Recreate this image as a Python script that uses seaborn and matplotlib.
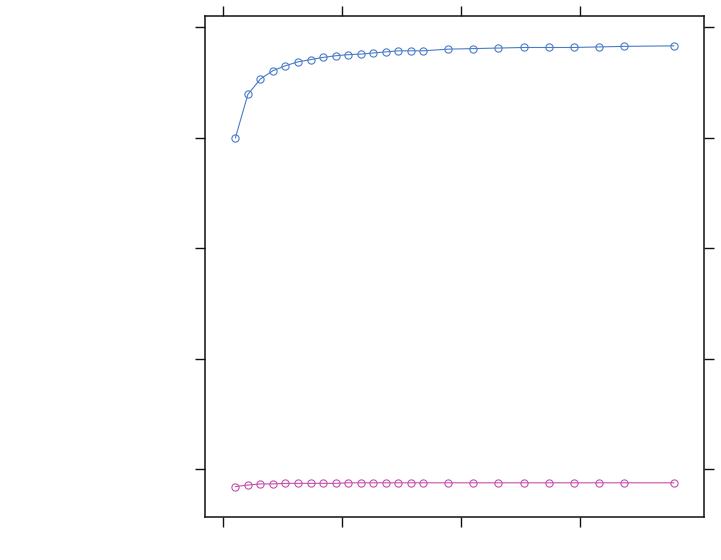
import pandas as pd
import matplotlib
matplotlib.use("Agg")
import matplotlib.pyplot as plt
import seaborn as sns

# x positions of the evaluated points
steps = [1, 2, 3, 4, 5, 6, 7, 8, 9, 10, 11, 12, 13, 14, 15, 16,
         18, 20, 22, 24, 26, 28, 30, 32, 36]

# upper (blue) series
upper = [0.599, 0.678, 0.706, 0.721, 0.730, 0.737, 0.741, 0.745, 0.748,
         0.750, 0.751, 0.753, 0.755, 0.757, 0.757, 0.757,
         0.760, 0.761, 0.762, 0.763, 0.763, 0.763, 0.764, 0.765, 0.766]

# lower (magenta) series
lower = [-0.032, -0.029, -0.027, -0.027, -0.026, -0.026, -0.026, -0.026,
         -0.026, -0.025, -0.025, -0.025, -0.025, -0.025, -0.025, -0.025,
         -0.025, -0.025, -0.025, -0.025, -0.025, -0.025, -0.025,
         -0.025, -0.025]

x_ticks = [0, 9.5, 19, 28.5]
y_ticks = [0.0, 0.2, 0.4, 0.6, 0.8]

df_up = pd.DataFrame({'x': steps, 'y': upper})
df_lo = pd.DataFrame({'x': steps, 'y': lower})

sns.set_style("white")
fig = plt.figure(figsize=(7.21, 5.6), dpi=100)
ax = fig.add_axes([205 / 721, 1 - 517 / 560, 499 / 721, 501 / 560])

for d, col in [(df_up, '#4a7cc8'), (df_lo, '#c64fae')]:
    sns.lineplot(data=d, x='x', y='y', ax=ax, color=col, linewidth=0.8,
                 marker='o', markersize=5.2, markerfacecolor='none',
                 markeredgecolor=col, markeredgewidth=0.8)

ax.set_xlim(-1.42, 38.4)
ax.set_ylim(-0.0869, 0.820)
ax.set_xticks(x_ticks)
ax.set_yticks(y_ticks)
ax.set_xlabel('')
ax.set_ylabel('')
ax.tick_params(direction='out', length=7, width=1, color='#111111',
               top=True, right=True, bottom=True, left=True,
               labelbottom=False, labelleft=False)
for s in ax.spines.values():
    s.set_visible(True)
    s.set_color('#111111')
    s.set_linewidth(1.1)

fig.savefig('out.png', dpi=100)
